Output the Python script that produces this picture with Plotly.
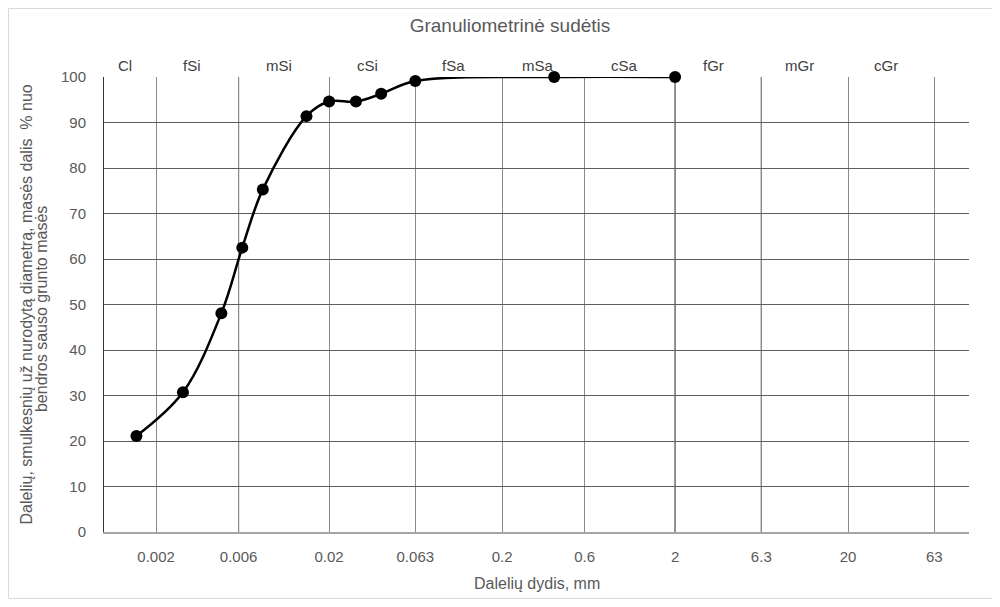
import numpy as np
import plotly.graph_objects as go

# ---- data ----
particle_size_mm = [0.00154, 0.00286, 0.00477, 0.0063, 0.00828, 0.0148,
                    0.02, 0.0286, 0.040, 0.063, 0.40, 2.0]
passing_pct = [21.1, 30.7, 48.1, 62.5, 75.3, 91.4,
               94.6, 94.6, 96.3, 99.1, 100, 100]

tick_vals = [0.002, 0.006, 0.02, 0.063, 0.2, 0.6, 2, 6.3, 20, 63]
tick_text = ["0.002", "0.006", "0.02", "0.063", "0.2", "0.6", "2", "6.3", "20", "63"]
dark_lines = [0.006, 2, 6.3]

fraction_bounds = [0.001, 0.002, 0.006, 0.02, 0.063, 0.2, 0.6, 2, 6.3, 20, 63]
fraction_labels = ["Cl", "fSi", "mSi", "cSi", "fSa", "mSa", "cSa", "fGr", "mGr", "cGr"]

y_ticks = list(range(0, 101, 10))

# ---- layout geometry (pixels, page body has an 8px margin) ----
OFF = 8
W, H = 1000 - OFF, 607 - 2 * OFF
L, T = 104 - OFF, 77 - OFF
R = W - (969 - OFF)
B = H - (532 - OFF)
PW, PH = W - L - R, H - T - B

FONT = "Arial, Liberation Sans, sans-serif"
GRAY_TXT = "#595959"

fig = go.Figure()
fig.add_trace(go.Scatter(
    x=particle_size_mm, y=passing_pct, mode="lines+markers",
    line=dict(color="black", width=2.5, shape="spline", smoothing=1.0),
    marker=dict(color="black", size=12),
    cliponaxis=False, showlegend=False, hoverinfo="x+y"))

shapes = []
for v in dark_lines:
    shapes.append(dict(type="line", xref="x", yref="paper", x0=v, x1=v, y0=0, y1=1,
                       line=dict(color="#111111", width=1), layer="below"))
# chart-area border
shapes.append(dict(type="rect", xref="paper", yref="paper",
                   x0=(0.5 - L) / PW, x1=(997 - OFF - L) / PW,
                   y0=(T + PH - (H - 0.5)) / PH, y1=(T + PH - 0.5) / PH,
                   line=dict(color="#d9d9d9", width=1), fillcolor="rgba(0,0,0,0)",
                   layer="below"))

annotations = []
for i, lab in enumerate(fraction_labels):
    mid = np.sqrt(fraction_bounds[i] * fraction_bounds[i + 1])
    annotations.append(dict(x=np.log10(mid), xref="x", y=1, yref="paper",
                            text=lab, showarrow=False, yanchor="middle", yshift=12,
                            xshift=-5, font=dict(family=FONT, size=15, color="#404040")))

annotations.append(dict(x=0.5, xref="paper", y=0, yref="paper", yshift=-51,
                        yanchor="middle", text="Dalelių dydis, mm", showarrow=False,
                        font=dict(family=FONT, size=16, color=GRAY_TXT)))
annotations.append(dict(x=0, xref="paper", y=0.5, yref="paper", xshift=-78,
                        xanchor="center", yanchor="middle", textangle=-90,
                        text="Dalelių, smulkesnių už nurodytą diametrą, masės dalis\u00a0 % nuo",
                        showarrow=False, font=dict(family=FONT, size=16, color=GRAY_TXT)))
annotations.append(dict(x=0, xref="paper", y=0.49, yref="paper", xshift=-63,
                        xanchor="center", yanchor="middle", textangle=-90,
                        text="bendros sauso grunto masės",
                        showarrow=False, font=dict(family=FONT, size=16, color=GRAY_TXT)))

fig.update_layout(
    width=W, height=H,
    margin=dict(l=L, r=R, t=T, b=B),
    paper_bgcolor="white", plot_bgcolor="white",
    title=dict(text="Granuliometrinė sudėtis", x=(510 - OFF) / W, xref="container",
               xanchor="center", y=1 - (25 - OFF) / H, yref="container", yanchor="middle",
               font=dict(family=FONT, size=19, color=GRAY_TXT)),
    xaxis=dict(type="log", range=[np.log10(fraction_bounds[0]), 2],
               tickvals=tick_vals, ticktext=tick_text,
               showgrid=True, gridcolor="#8a8a8a", gridwidth=1,
               showline=True, linecolor="#a6a6a6", linewidth=2,
               zeroline=False, ticks="", ticklabelstandoff=10,
               tickfont=dict(family=FONT, size=15, color=GRAY_TXT)),
    yaxis=dict(range=[0, 100], tickvals=y_ticks,
               showgrid=True, gridcolor="#5e5e5e", gridwidth=1,
               showline=True, linecolor="#333333", linewidth=1,
               zeroline=False, ticks="", ticklabelstandoff=14,
               tickfont=dict(family=FONT, size=15, color=GRAY_TXT)),
    shapes=shapes, annotations=annotations,
)

fig.write_html("out.html")
